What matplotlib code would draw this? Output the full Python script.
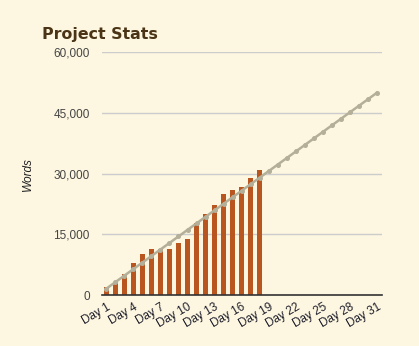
import matplotlib
matplotlib.use("Agg")
import matplotlib.pyplot as plt
import numpy as np

# words written per day (days 1-18)
days_written = list(range(1, 19))
words = [2050, 3200, 5250, 7950, 10200, 11400, 11400, 11400, 12850,
         13850, 17850, 20000, 22200, 24900, 25900, 26650, 28850, 30800]

# target pace: 50,000 words by day 31
target_days = list(range(1, 32))
target_words = [50000 * d / 31 for d in target_days]

tick_days = list(range(1, 32, 3))
tick_labels = ['Day %d' % d for d in tick_days]

bg = '#fdf7e1'
plt.rcParams['font.family'] = ['Liberation Sans', 'DejaVu Sans']

fig = plt.figure(figsize=(4.19, 3.46), dpi=100, facecolor=bg)
ax = fig.add_axes([0.2427, 0.1465, 0.6683, 0.7032], facecolor=bg)

ax.bar(days_written, words, width=0.55, color='#b9561f', zorder=2)
ax.plot(target_days, target_words, color='#b3af99', lw=1.8, marker='o',
        markersize=2.6, zorder=3)

ax.set_xlim(0.5, 31.5)
ax.set_ylim(0, 60000)
ax.set_yticks([0, 15000, 30000, 45000, 60000])
ax.set_yticklabels(['0', '15,000', '30,000', '45,000', '60,000'])
ax.set_xticks(tick_days)
ax.set_xticklabels(tick_labels, rotation=30, ha='right', rotation_mode='anchor')

ax.grid(axis='y', color='#cccccc', lw=1, zorder=0)
for s in ['top', 'right', 'left']:
    ax.spines[s].set_visible(False)
ax.spines['bottom'].set_color('#333333')
ax.spines['bottom'].set_linewidth(1.2)
ax.spines['bottom'].set_zorder(4)

ax.tick_params(axis='y', length=0, pad=8.5, labelsize=8.5, labelcolor='#444444')
ax.tick_params(axis='x', length=0, pad=4, labelsize=8.5, labelcolor='#1e1e2a')

ax.set_ylabel('Words', fontstyle='italic', fontsize=8.5, color='#222222', labelpad=14)

fig.text(41.7 / 419, (346 - 39) / 346, 'Project Stats', fontsize=11.4,
         fontweight='bold', color='#4a3415', family='DejaVu Sans', va='baseline')

fig.savefig('out.png', dpi=100, facecolor=bg)
